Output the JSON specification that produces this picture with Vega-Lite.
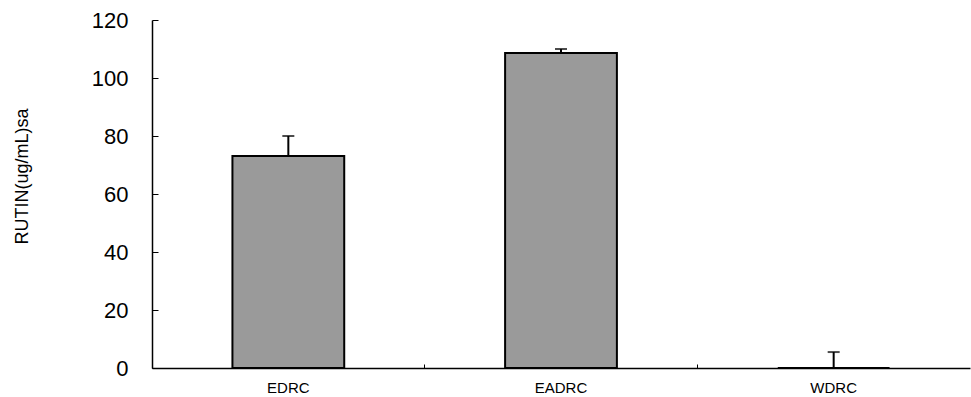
{
  "$schema": "https://vega.github.io/schema/vega-lite/v6.json",
  "width": 818,
  "height": 348,
  "autosize": {"type": "none"},
  "padding": {"left": 152, "top": 20, "right": 1, "bottom": 29},
  "background": "white",
  "config": {"view": {"stroke": null}, "font": "Liberation Sans"},
  "data": {"values": [
    {"group": "EDRC", "rutin": 73.1, "upper": 80.0},
    {"group": "EADRC", "rutin": 108.6, "upper": 110.0},
    {"group": "WDRC", "rutin": 0, "upper": 5.5}
  ]},
  "encoding": {
    "x": {
      "field": "group", "type": "nominal", "sort": null,
      "scale": {"paddingInner": 0, "paddingOuter": 0},
      "axis": {
        "title": null, "labelAngle": 0, "bandPosition": 0,
        "domainColor": "black", "domainWidth": 1.5,
        "tickColor": "black", "tickSize": -4, "tickWidth": 1,
        "labelColor": "black", "labelFontSize": 15, "labelPadding": 23,
        "labelBaseline": "middle"
      }
    }
  },
  "layer": [
    {
      "mark": {"type": "bar", "width": {"band": 0.41}, "fill": "#9a9a9a", "stroke": "black", "strokeWidth": 2},
      "encoding": {
        "y": {
          "field": "rutin", "type": "quantitative",
          "scale": {"domain": [0, 120], "nice": false},
          "axis": {
            "title": "RUTIN(ug/mL)sa", "titleFontSize": 18, "titleFontWeight": "normal", "titleColor": "black",
            "titleX": -130, "titleY": 156, "titleBaseline": "middle", "titleAlign": "center", "titleAngle": -90,
            "values": [0, 20, 40, 60, 80, 100, 120], "grid": false,
            "domainColor": "black", "domainWidth": 1.5,
            "tickColor": "black", "tickSize": -6, "tickWidth": 1,
            "labelColor": "black", "labelFontSize": 22, "labelPadding": 30
          }
        }
      }
    },
    {
      "mark": {"type": "rule", "color": "black", "strokeWidth": 2},
      "encoding": {"y": {"field": "rutin", "type": "quantitative"}, "y2": {"field": "upper"}}
    },
    {
      "mark": {"type": "tick", "color": "black", "thickness": 2, "size": 12},
      "encoding": {"y": {"field": "upper", "type": "quantitative"}}
    }
  ]
}
